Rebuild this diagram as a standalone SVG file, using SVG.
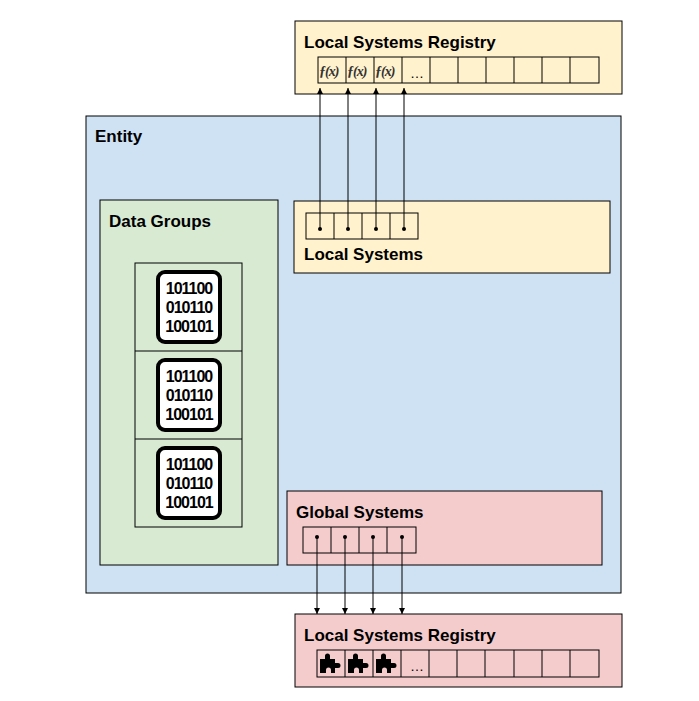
<svg xmlns="http://www.w3.org/2000/svg" width="699" height="701" viewBox="0 0 699 701">
<style>
.b{stroke:#000;stroke-width:1}
.y{fill:#fff2cc}.bl{fill:#cfe2f3}.g{fill:#d9ead3}.r{fill:#f4cccc}
.t{font-family:"Liberation Sans",Arial,sans-serif;font-weight:bold;font-size:17px;fill:#000}
.c{fill:none;stroke:#000;stroke-width:1}
.bin{font-family:"Liberation Sans",Arial,sans-serif;font-weight:bold;font-size:16px;fill:#000;letter-spacing:-1px}
.fx{font-family:"Liberation Serif",serif;font-style:italic;font-weight:bold;font-size:14px;fill:#333;letter-spacing:-1px}
.dots{font-family:"Liberation Sans",Arial,sans-serif;font-size:14px;fill:#000}
</style>
<defs>
<marker id="ah" viewBox="0 0 6 6" refX="6" refY="3" markerWidth="6" markerHeight="6" orient="auto" markerUnits="userSpaceOnUse"><path d="M0,0 L6,3 L0,6 Z" fill="#000"/></marker>
<circle id="dot" r="2" fill="#000"/>
<g id="bin">
<rect x="-31" y="-35" width="62" height="70" rx="7" fill="#fff" stroke="#000" stroke-width="4"/>
<text class="bin" x="0" y="-13" text-anchor="middle">101100</text>
<text class="bin" x="0" y="6" text-anchor="middle">010110</text>
<text class="bin" x="0" y="25" text-anchor="middle">100101</text>
</g>
<path id="pz" d="M-10,-5 h5 v-3 a2.5,2.5 0 1 1 5,0 v3 h5 v4 h3 a2.5,2.5 0 1 1 0,5 h-3 v5 h-4 v-3 a2.5,2.5 0 1 0 -5,0 v3 h-6 z" fill="#000"/>
</defs>

<g id="registry-top">
<rect class="b y" x="295" y="21" width="327" height="73"/>
<text class="t" x="304" y="48">Local Systems Registry</text>
<g class="c">
<rect x="318" y="57" width="281" height="26"/>
<path d="M346,57v26M374,57v26M402,57v26M430,57v26M458,57v26M486,57v26M514,57v26M542,57v26M570,57v26"/>
</g>
<text class="fx" x="319" y="76">ƒ(x)</text>
<text class="fx" x="347" y="76">ƒ(x)</text>
<text class="fx" x="375" y="76">ƒ(x)</text>
<text class="dots" x="410" y="78">…</text>
</g>

<g id="entity">
<rect class="b bl" x="86" y="116" width="535" height="477"/>
<text class="t" x="95" y="142">Entity</text>
</g>

<g id="local-systems">
<rect class="b y" x="294" y="201" width="316" height="72"/>
<text class="t" x="304" y="260">Local Systems</text>
<g class="c"><rect x="306" y="213" width="112" height="26"/><path d="M334,213v26M362,213v26M390,213v26"/></g>
</g>

<g id="data-groups">
<rect class="b g" x="100" y="200" width="178" height="365"/>
<text class="t" x="109" y="227">Data Groups</text>
<g class="c"><rect x="135" y="263" width="107" height="264"/><path d="M135,351h107M135,439h107"/></g>
<use href="#bin" x="189" y="307"/>
<use href="#bin" x="189" y="395"/>
<use href="#bin" x="189" y="483"/>
</g>

<g id="global-systems">
<rect class="b r" x="287" y="491" width="315" height="74"/>
<text class="t" x="296" y="518">Global Systems</text>
<g class="c"><rect x="303" y="527" width="113" height="26"/><path d="M331,527v26M359,527v26M387,527v26"/></g>
</g>

<g id="registry-bottom">
<rect class="b r" x="295" y="614" width="327" height="73"/>
<text class="t" x="304" y="641">Local Systems Registry</text>
<g class="c">
<rect x="317" y="650" width="282" height="27"/>
<path d="M345,650v27M373,650v27M401,650v27M429,650v27M457,650v27M485,650v27M514,650v27M542,650v27M570,650v27"/>
</g>
<use href="#pz" x="330" y="664"/>
<use href="#pz" x="358" y="664"/>
<use href="#pz" x="386" y="664"/>
<text class="dots" x="410" y="671">…</text>
</g>

<g id="connectors">
<g class="c" marker-end="url(#ah)">
<path d="M320,229V88"/><path d="M348,229V88"/><path d="M376,229V88"/><path d="M404,229V88"/>
<path d="M317,537V614"/><path d="M345,537V614"/><path d="M373,537V614"/><path d="M402,537V614"/>
</g>
<use href="#dot" x="320" y="229"/><use href="#dot" x="348" y="229"/><use href="#dot" x="376" y="229"/><use href="#dot" x="404" y="229"/>
<use href="#dot" x="317" y="537"/><use href="#dot" x="345" y="537"/><use href="#dot" x="373" y="537"/><use href="#dot" x="402" y="537"/>
</g>
</svg>
